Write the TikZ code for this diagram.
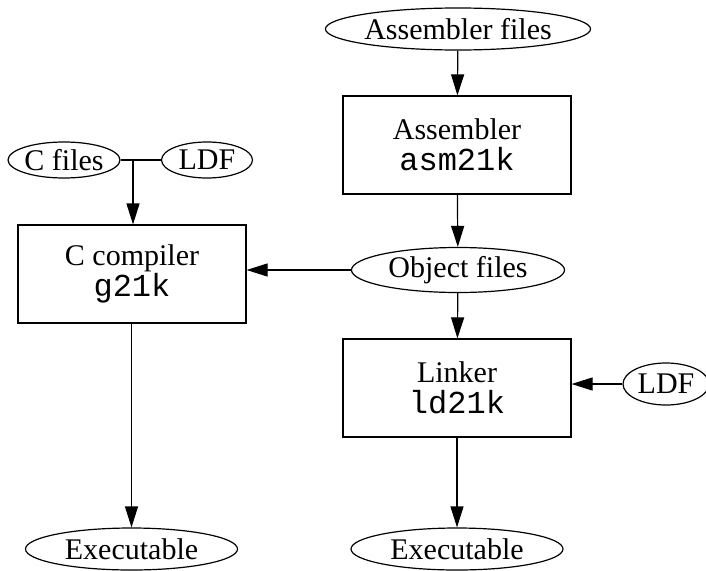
\documentclass[tikz,border=0pt]{standalone}
\usepackage{fontspec}
\setmainfont{Liberation Serif}
\setmonofont{Liberation Mono}
\usetikzlibrary{shapes.geometric,arrows.meta}
\begin{document}
\begin{tikzpicture}[x=1pt,y=-1pt,
  every node/.style={font=\fontsize{30}{31}\selectfont, inner sep=0pt, line width=1.2pt},
  oval/.style={draw, ellipse, minimum height=42pt},
  stepbox/.style={draw, rectangle, minimum width=228pt, minimum height=98pt, align=center},
  conn/.style={line width=1.2pt},
  arr/.style={conn, -{Triangle[length=21pt,width=13pt]}}]
\newcommand{\cmd}[1]{{\fontsize{32}{31}\selectfont\texttt{#1}}}
\useasboundingbox (0,0) rectangle (706,570);
\node[oval, minimum width=257pt] (asmf) at (458,29) {Assembler files};
\node[stepbox] (asm) at (457,145) {Assembler\\\cmd{asm21k}};
\node[oval, minimum width=213pt, minimum height=45pt] (obj) at (458,270) {Object files};
\node[stepbox] (ld) at (457,388) {Linker\\\cmd{ld21k}};
\node[oval, minimum width=86pt] (ldf2) at (666,384) {LDF};
\node[oval, minimum width=212pt] (exe2) at (457,549) {Executable};
\node[oval, minimum width=106pt, minimum height=36pt] (cf) at (64,160) {C files};
\node[oval, minimum width=91pt, minimum height=36pt] (ldf1) at (207,160) {LDF};
\node[stepbox] (cc) at (132,274) {C compiler\\\cmd{g21k}};
\node[oval, minimum width=212pt] (exe1) at (131.5,549) {Executable};
\coordinate (j) at (133,160);
\draw[arr] (asmf) -- (asm);
\draw[arr] (asm) -- (obj);
\draw[arr] (obj) -- (ld);
\draw[arr] (ldf2) -- (ld.east |- ldf2);
\draw[arr] (ld) -- (exe2);
\draw[arr] (obj) -- (cc.east |- obj);
\draw[conn] (cf) -- (ldf1);
\draw[arr] (j) -- (j |- cc.north);
\draw[arr] (cc.south -| exe1) -- (exe1);
\end{tikzpicture}
\end{document}
